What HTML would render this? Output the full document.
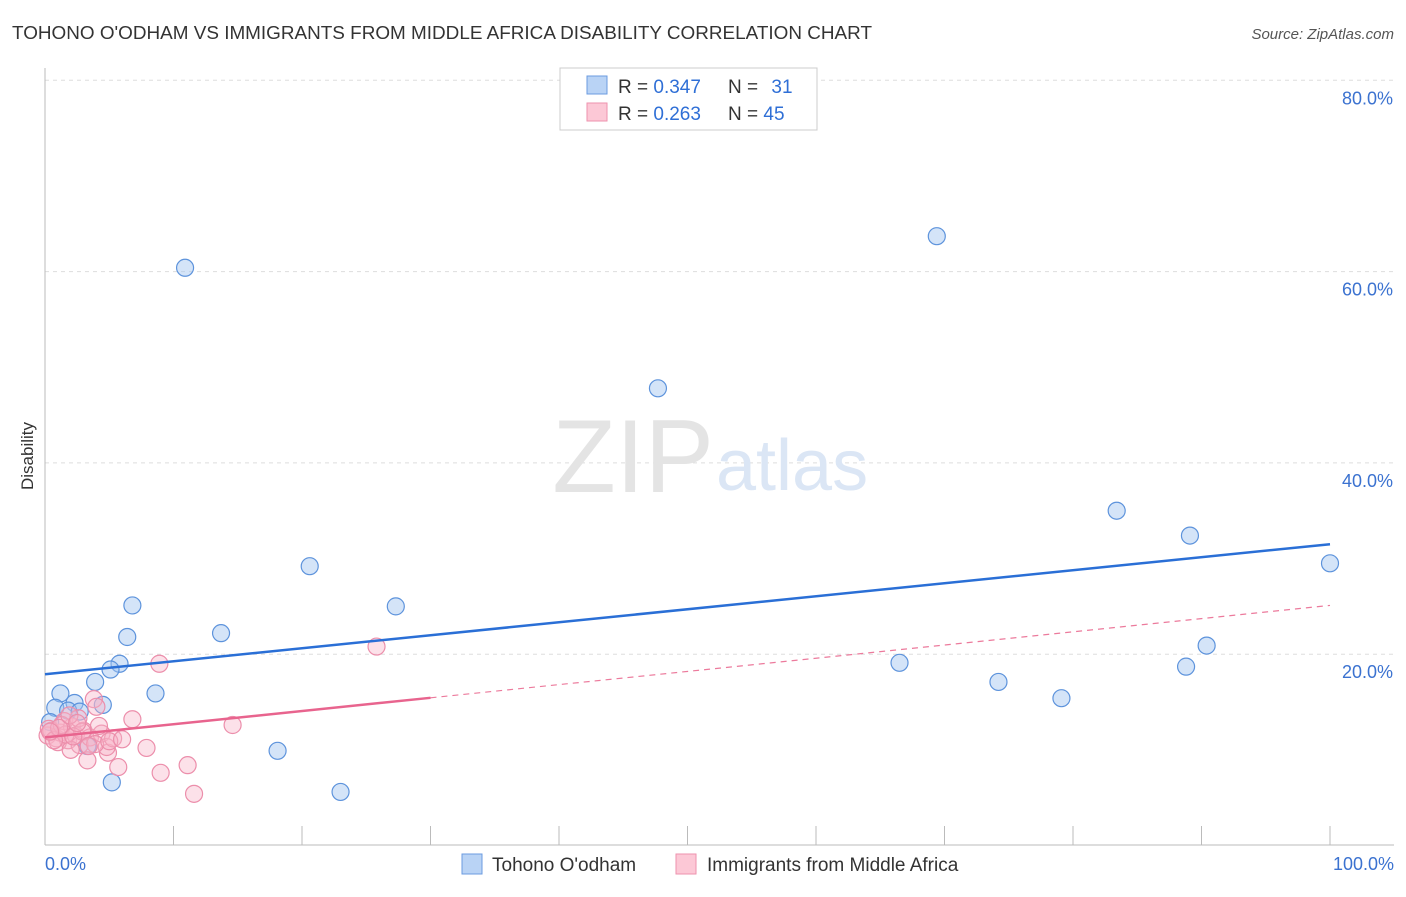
<!DOCTYPE html>
<html><head><meta charset="utf-8"><style>
body{margin:0;background:#fff;font-family:"Liberation Sans",sans-serif;}
svg text{font-family:"Liberation Sans",sans-serif;}
</style></head><body>
<svg width="1406" height="892" viewBox="0 0 1406 892">
<text x="12" y="39" font-size="18" fill="#333" textLength="860" lengthAdjust="spacingAndGlyphs">TOHONO O'ODHAM VS IMMIGRANTS FROM MIDDLE AFRICA DISABILITY CORRELATION CHART</text>
<text x="1394" y="39" font-size="15" fill="#555" font-style="italic" text-anchor="end">Source: ZipAtlas.com</text>
<g id="grid"></g>
<text x="714" y="492" font-size="104" fill="#e4e4e4" text-anchor="end" font-family="Liberation Serif">ZIP</text>
<text x="716" y="490" font-size="72" fill="#dbe6f5">atlas</text>
<line x1="45" y1="68" x2="45" y2="845" stroke="#bbb"/>
<line x1="45" y1="845" x2="1394" y2="845" stroke="#bbb"/>
<text transform="translate(33,456) rotate(-90)" font-size="17" fill="#333" text-anchor="middle">Disability</text>
<text x="45" y="870" font-size="18" fill="#3b72d0">0.0%</text>
<text x="1394" y="870" font-size="18" fill="#3b72d0" text-anchor="end">100.0%</text>
<g id="marks"></g>
<g>
<rect x="560" y="68" width="257" height="62" fill="#fff" stroke="#ccc"/>
<rect x="587" y="76" width="20" height="18" fill="#b9d3f5" stroke="#6b9be0"/>
<rect x="587" y="103" width="20" height="18" fill="#fcc8d6" stroke="#ee92ae"/>
<text x="618" y="93" font-size="19" fill="#333">R = <tspan fill="#2f6fd6">0.347</tspan></text>
<text x="728" y="93" font-size="19" fill="#333">N = <tspan fill="#2f6fd6" dx="8">31</tspan></text>
<text x="618" y="120" font-size="19" fill="#333">R = <tspan fill="#2f6fd6">0.263</tspan></text>
<text x="728" y="120" font-size="19" fill="#333">N = <tspan fill="#2f6fd6">45</tspan></text>
</g>
<g>
<rect x="462" y="854" width="20" height="20" fill="#b9d3f5" stroke="#6b9be0"/>
<text x="492" y="871" font-size="19" fill="#333">Tohono O'odham</text>
<rect x="676" y="854" width="20" height="20" fill="#fcc8d6" stroke="#ee92ae"/>
<text x="707" y="871" font-size="19" fill="#333">Immigrants from Middle Africa</text>
</g>
</svg>
<script>
const yTicks=[20,40,60,80];
const yTickLabels=["20.0%","40.0%","60.0%","80.0%"];
const xTicks=[0,10,20,30,40,50,60,70,80,90,100];
const blueX=[10.9,69.4,47.7,83.4,89.1,100,90.4,88.8,66.5,74.2,79.1,20.6,27.3,13.7,6.8,6.4,5.8,5.1,3.9,8.6,1.2,2.3,4.5,0.8,1.8,2.7,3.3,18.1,5.2,23.0,0.4];
const blueY=[60.4,63.7,47.8,35.0,32.4,29.5,20.9,18.7,19.1,17.1,15.4,29.2,25.0,22.2,25.1,21.8,19.0,18.4,17.1,15.9,15.9,14.9,14.7,14.4,14.1,14.0,10.4,9.9,6.6,5.6,12.9];
const pinkX=[25.8,8.9,3.8,14.6,6.8,7.9,9.0,11.1,11.6,5.7,4.9,3.3,0.2,0.5,0.9,1.2,1.5,1.8,2.1,2.4,2.7,3.0,3.5,4.0,4.4,4.8,5.3,1.0,0.3,2.0,2.6,1.6,3.9,0.7,1.3,2.9,4.2,5.0,6.0,1.1,2.2,3.4,0.4,1.9,2.5];
const pinkY=[20.8,19.0,15.3,12.6,13.2,10.2,7.6,8.4,5.4,8.2,9.7,8.9,11.5,12.0,11.2,11.8,13.0,11.0,12.4,11.5,10.5,12.0,11.3,14.5,11.7,10.3,11.2,10.8,12.2,10.0,13.3,11.6,10.6,11.0,12.6,11.9,12.5,10.9,11.1,12.3,11.4,10.4,11.9,13.6,12.8];
const blueTrend=[17.9,31.5];
const pinkTrend=[11.3,25.1];
const pinkSolidEnd=30;
const NS="http://www.w3.org/2000/svg";
const xs=v=>45+v*12.85, ys=v=>845.5-v*9.565;
function mk(tag,attrs,parent){const e=document.createElementNS(NS,tag);for(const k in attrs)e.setAttribute(k,attrs[k]);parent.appendChild(e);return e;}
const grid=document.getElementById('grid'),marks=document.getElementById('marks');
yTicks.forEach((t,i)=>{
 const l=mk('line',{x1:45,x2:1394,y1:ys(t),y2:ys(t),stroke:'#ddd','stroke-dasharray':'4,4'},grid);
 
 
 const tx=mk('text',{x:1393,y:ys(t)+24,'font-size':18,fill:'#3b72d0','text-anchor':'end'},grid);
 tx.textContent=yTickLabels[i];
 
 
});
xTicks.forEach(t=>{
 const l=mk('line',{x1:xs(t),x2:xs(t),y1:826,y2:845,stroke:'#bbb'},grid);
 
 
});
blueX.forEach((x,i)=>{
 const c=mk('circle',{cx:xs(x),cy:ys(blueY[i]),r:8.5,fill:'rgba(160,196,240,0.45)',stroke:'#5d93dc','stroke-width':1.2},marks);
 
 
});
pinkX.forEach((x,i)=>{
 const c=mk('circle',{cx:xs(x),cy:ys(pinkY[i]),r:8.5,fill:'rgba(248,180,200,0.4)',stroke:'#ec8eab','stroke-width':1.2},marks);
 
 
});
const bl=mk('line',{x1:xs(0),y1:ys(blueTrend[0]),x2:xs(100),y2:ys(blueTrend[1]),stroke:'#2a6fd6','stroke-width':2.5},marks);


const pe=pinkTrend[0]+(pinkTrend[1]-pinkTrend[0])*pinkSolidEnd/100;
const pd=mk('line',{x1:xs(pinkSolidEnd),y1:ys(pe),x2:xs(100),y2:ys(pinkTrend[1]),stroke:'#ec7a9c','stroke-width':1.2,'stroke-dasharray':'6,5'},marks);


const ps=mk('line',{x1:xs(0),y1:ys(pinkTrend[0]),x2:xs(pinkSolidEnd),y2:ys(pe),stroke:'#e8648e','stroke-width':2.5},marks);


</script>
</body></html>
